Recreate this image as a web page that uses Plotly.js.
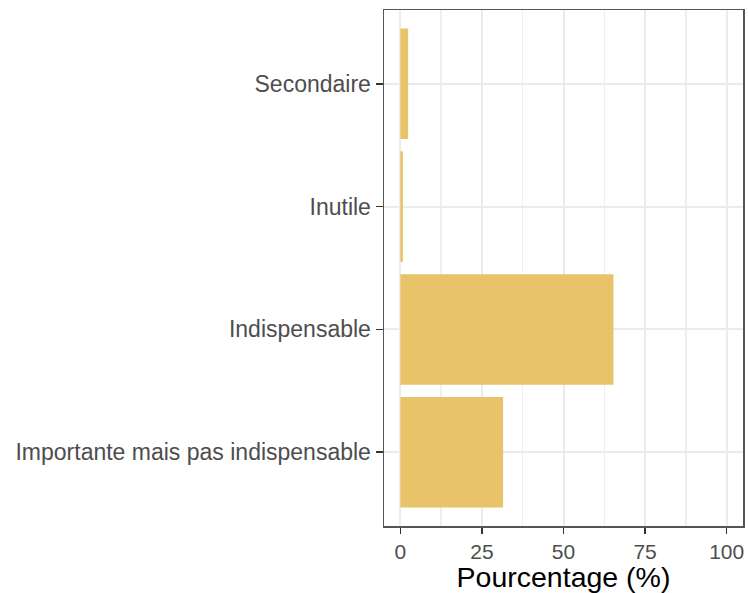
<!DOCTYPE html>
<html>
<head>
<meta charset="utf-8">
<script src="https://cdn.plot.ly/plotly-3.0.1.min.js"></script>
<style>html,body{margin:0;padding:0;background:#fff;}#chart{width:748px;height:593px;}</style>
</head>
<body>
<div id="chart"></div>
<script>
var categories = ["Importante mais pas indispensable", "Indispensable", "Inutile", "Secondaire"];
var percentages = [31.5, 65.3, 0.8, 2.4];
var xTicks = [0, 25, 50, 75, 100];

var trace = {
  type: "bar",
  orientation: "h",
  y: categories,
  x: percentages,
  width: 0.9,
  marker: {color: "#E8C36A", line: {width: 0}},
  hoverinfo: "x+y"
};

var layout = {
  width: 748,
  height: 593,
  margin: {l: 384, r: 5, t: 10, b: 67, pad: 0},
  paper_bgcolor: "#ffffff",
  plot_bgcolor: "#ffffff",
  showlegend: false,
  font: {family: "Liberation Sans, Arial, sans-serif", color: "#4D4D4D", size: 21},
  xaxis: {
    range: [-5, 105],
    tickvals: xTicks,
    ticktext: xTicks.map(String),
    ticks: "outside",
    ticklen: 6,
    tickwidth: 1.6,
    tickcolor: "#333333",
    tickfont: {size: 21, color: "#4D4D4D"},
    showgrid: true,
    gridcolor: "#EBEBEB",
    gridwidth: 2,
    minor: {tick0: 12.5, dtick: 25, showgrid: true, gridcolor: "#EFEFEF", gridwidth: 1.3, ticks: ""},
    zeroline: false,
    showline: true,
    linecolor: "#555555",
    linewidth: 1.5,
    mirror: true,
    title: {text: "Pourcentage (%)", font: {size: 28.5, color: "#000000"}, standoff: 9}
  },
  yaxis: {
    type: "category",
    categoryorder: "array",
    categoryarray: categories,
    range: [-0.6, 3.6],
    ticks: "outside",
    ticklen: 7,
    tickwidth: 1.6,
    tickcolor: "#333333",
    tickfont: {size: 23, color: "#4D4D4D"},
    showgrid: true,
    gridcolor: "#EBEBEB",
    gridwidth: 2,
    zeroline: false,
    showline: true,
    linecolor: "#555555",
    linewidth: 1.5,
    mirror: true
  },
  bargap: 0.1
};

Plotly.newPlot("chart", [trace], layout, {displayModeBar: false, staticPlot: true});
</script>
</body>
</html>
